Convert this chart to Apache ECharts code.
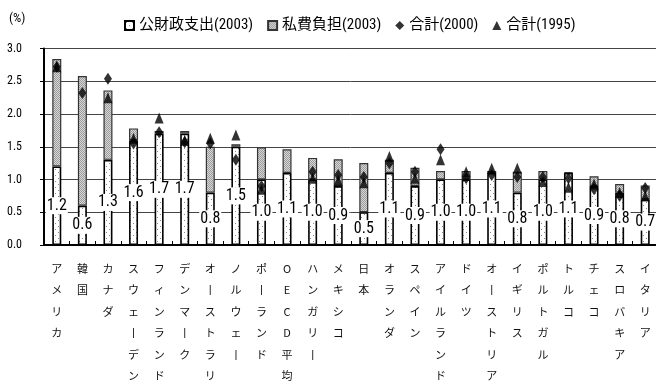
<!DOCTYPE html>
<html>
<head>
<meta charset="utf-8">
<script src="https://cdn.jsdelivr.net/npm/echarts@6/dist/echarts.min.js"></script>
<style>
  html, body { margin: 0; padding: 0; background: #fff; }
  #chart { width: 656px; height: 392px; }
</style>
</head>
<body>
<div id="chart"></div>
<script>
// Education spending as % of GDP, by country
const categories = ['アメリカ','韓国','カナダ','スウェーデン','フィンランド','デンマーク','オーストラリア','ノルウェー','ポーランド','OECD平均','ハンガリー','メキシコ','日本','オランダ','スペイン','アイルランド','ドイツ','オーストリア','イギリス','ポルトガル','トルコ','チェコ','スロバキア','イタリア'];
const publicSpending2003 = [1.2,0.6,1.3,1.6,1.7,1.7,0.8,1.5,1.0,1.1,1.0,0.9,0.5,1.1,0.9,1.0,1.0,1.1,0.8,1.0,1.1,0.9,0.8,0.7];
const privateSpending2003 = [1.64,1.98,1.06,0.18,0.04,0.04,0.70,0.04,0.49,0.36,0.33,0.41,0.75,0.20,0.28,0.13,0.13,0.03,0.32,0.13,0.01,0.15,0.13,0.21];
const total2000 = [2.72,2.32,2.54,1.55,1.72,1.57,1.55,1.30,0.90,null,1.12,1.07,1.04,1.25,1.12,1.46,1.02,1.07,1.04,1.04,1.02,0.85,0.75,0.87];
const total1995 = [2.72,null,2.25,1.63,1.94,1.60,1.63,1.68,0.85,null,1.02,0.99,0.95,1.35,1.02,1.30,1.12,1.17,1.17,0.97,0.88,0.93,0.80,0.75];
const yTicks = { min: 0, max: 3, step: 0.5 };

const NARROW = '"Roboto Condensed","Noto Sans CJK JP",sans-serif';

// Dotted fill for the public-spending bars
function dotPattern() {
  const c = document.createElement('canvas');
  c.width = 6; c.height = 6;
  const g = c.getContext('2d');
  g.fillStyle = '#ffffff'; g.fillRect(0, 0, 6, 6);
  g.fillStyle = '#8a8a8a';
  g.fillRect(1, 1, 1, 1);
  g.fillRect(4, 4, 1, 1);
  return c;
}
// Fine gray dither for the private-spending bars
function grayPattern() {
  const c = document.createElement('canvas');
  c.width = 2; c.height = 2;
  const g = c.getContext('2d');
  g.fillStyle = '#d6d6d6'; g.fillRect(0, 0, 2, 2);
  g.fillStyle = '#9c9c9c';
  g.fillRect(0, 0, 1, 1);
  g.fillRect(1, 1, 1, 1);
  return c;
}

const chart = echarts.init(document.getElementById('chart'), null, { renderer: 'canvas' });

chart.setOption({
  animation: false,
  backgroundColor: '#ffffff',
  graphic: [{
    type: 'text', left: 9, top: 12,
    style: { text: '(%)', font: '13px ' + NARROW, fill: '#000' }
  }],
  legend: {
    left: 119, top: 13,
    itemWidth: 9, itemHeight: 9, itemGap: 14,
    textStyle: { fontFamily: NARROW, fontSize: 15, color: '#000' },
    data: [
      { name: '公財政支出(2003)', icon: 'rect' },
      { name: '私費負担(2003)', icon: 'rect' },
      { name: '合計(2000)', icon: 'diamond' },
      { name: '合計(1995)', icon: 'triangle' }
    ]
  },
  grid: {
    left: 44, right: -2, top: 48.5, bottom: 147,
    outerBoundsMode: 'none', containLabel: false,
    show: true, borderColor: '#444', borderWidth: 1
  },
  xAxis: {
    type: 'category',
    data: categories,
    axisLine: { lineStyle: { color: '#000', width: 2 } },
    axisTick: { show: true, inside: true, length: 4, lineStyle: { color: '#000' } },
    axisLabel: {
      interval: 0, margin: 13, fontSize: 11, lineHeight: 21.5,
      fontFamily: '"Noto Sans CJK JP",sans-serif', color: '#111',
      formatter: v => v.split('').map(ch => ch === 'ー' ? '丨' : ch).join('\n')
    }
  },
  yAxis: {
    type: 'value', min: yTicks.min, max: yTicks.max, interval: yTicks.step,
    axisLine: { show: true, lineStyle: { color: '#000', width: 2 } },
    axisTick: { show: true, length: 4, lineStyle: { color: '#000' } },
    axisLabel: { margin: 22, fontSize: 12, fontFamily: NARROW, color: '#000', formatter: v => v.toFixed(1) },
    splitLine: { lineStyle: { color: '#444', width: 1 } }
  },
  series: [
    {
      name: '公財政支出(2003)', type: 'bar', stack: 'total', barWidth: 9,
      data: publicSpending2003,
      itemStyle: { color: { image: dotPattern(), repeat: 'repeat' }, borderColor: '#000', borderWidth: 1.6 },
      label: {
        show: true, position: 'inside', fontFamily: NARROW, fontSize: 16, color: '#000',
        backgroundColor: '#fff', padding: [1, 1, 0, 1],
        formatter: p => p.value.toFixed(1)
      },
      z: 2
    },
    {
      name: '私費負担(2003)', type: 'bar', stack: 'total', barWidth: 9,
      data: privateSpending2003,
      itemStyle: { color: { image: grayPattern(), repeat: 'repeat' }, borderColor: '#333', borderWidth: 1.2 },
      z: 2
    },
    {
      name: '合計(2000)', type: 'scatter', symbol: 'diamond', symbolSize: [8, 12],
      data: total2000,
      itemStyle: { color: '#000' }, z: 4
    },
    {
      name: '合計(1995)', type: 'scatter', symbol: 'triangle', symbolSize: [9, 11],
      data: total1995,
      itemStyle: { color: '#000' }, z: 5
    }
  ]
});
</script>
</body>
</html>
